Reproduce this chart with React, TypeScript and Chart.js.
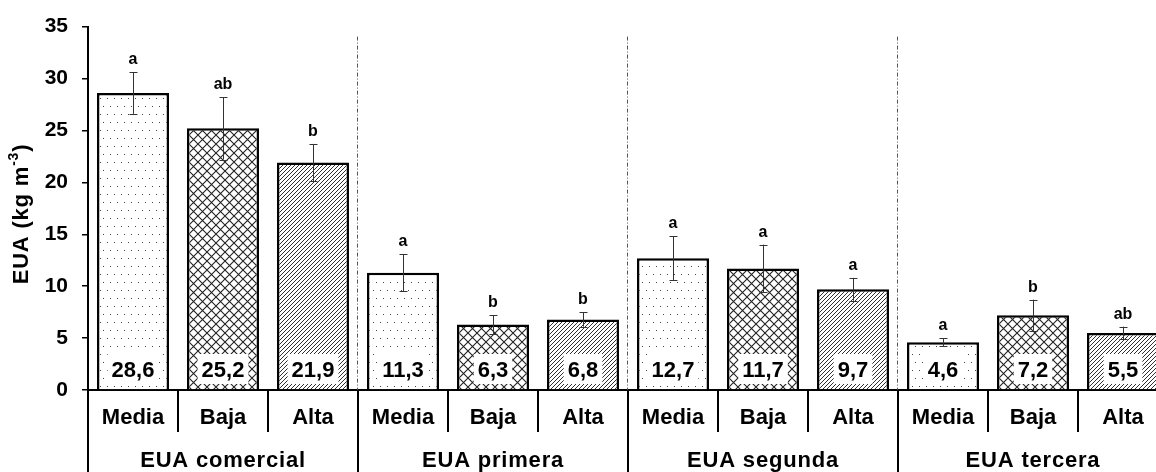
import React, { useEffect, useRef } from "react";
import { Chart, registerables } from "chart.js";

Chart.register(...registerables);

const groups = ["EUA comercial", "EUA primera", "EUA segunda", "EUA tercera"];
const treatments = ["Media", "Baja", "Alta"];
const values = [28.6, 25.2, 21.9, 11.3, 6.3, 6.8, 12.7, 11.7, 9.7, 4.6, 7.2, 5.5];
const errors = [2.0, 3.0, 1.8, 1.8, 0.9, 0.7, 2.1, 2.3, 1.1, 0.4, 1.5, 0.6];
const letters = ["a", "ab", "b", "a", "b", "b", "a", "a", "a", "a", "b", "ab"];
const yMin = 0;
const yMax = 35;
const yStep = 5;

const labels = groups.flatMap(() => treatments);
const FONT = '"Liberation Sans", Arial, Helvetica, sans-serif';

function makePattern(kind: string): CanvasPattern | string {
  const c = document.createElement("canvas");
  const ctx = c.getContext("2d");
  if (!ctx) return "#fff";
  if (kind === "dots") {
    c.width = 14;
    c.height = 16;
    ctx.fillStyle = "#fff";
    ctx.fillRect(0, 0, 14, 16);
    ctx.fillStyle = "#444";
    ctx.fillRect(2, 2, 1, 1);
    ctx.fillRect(9, 2, 1, 1);
    ctx.fillRect(5, 10, 1, 1);
    ctx.fillRect(12, 10, 1, 1);
  } else if (kind === "cross") {
    c.width = 9;
    c.height = 9;
    ctx.fillStyle = "#fff";
    ctx.fillRect(0, 0, 9, 9);
    ctx.strokeStyle = "#222";
    ctx.lineWidth = 1.1;
    ctx.beginPath();
    ctx.moveTo(0, 0);
    ctx.lineTo(9, 9);
    ctx.moveTo(9, 0);
    ctx.lineTo(0, 9);
    ctx.stroke();
  } else {
    c.width = 4;
    c.height = 4;
    ctx.fillStyle = "#fff";
    ctx.fillRect(0, 0, 4, 4);
    ctx.strokeStyle = "#333";
    ctx.lineWidth = 1;
    ctx.beginPath();
    ctx.moveTo(0, 4);
    ctx.lineTo(4, 0);
    ctx.moveTo(-1, 1);
    ctx.lineTo(1, -1);
    ctx.moveTo(3, 5);
    ctx.lineTo(5, 3);
    ctx.stroke();
  }
  return ctx.createPattern(c, "repeat") || "#fff";
}

const overlayPlugin = {
  id: "overlay",
  afterDatasetsDraw(chart: any) {
    const ctx = chart.ctx;
    const meta = chart.getDatasetMeta(0);
    const ys = chart.scales.y;
    const zero = ys.getPixelForValue(0);
    ctx.save();
    meta.data.forEach((bar: any, i: number) => {
      const x = Math.round(bar.x) + 0.5;
      const yt = ys.getPixelForValue(values[i] + errors[i]);
      const yb = ys.getPixelForValue(values[i] - errors[i]);
      ctx.strokeStyle = "#333";
      ctx.lineWidth = 1;
      ctx.setLineDash([]);
      ctx.beginPath();
      ctx.moveTo(x, yt);
      ctx.lineTo(x, yb);
      ctx.moveTo(x - 4, Math.round(yt) + 0.5);
      ctx.lineTo(x + 4, Math.round(yt) + 0.5);
      ctx.moveTo(x - 4, Math.round(yb) + 0.5);
      ctx.lineTo(x + 4, Math.round(yb) + 0.5);
      ctx.stroke();

      ctx.fillStyle = "#000";
      ctx.font = `bold 16px ${FONT}`;
      ctx.textAlign = "center";
      ctx.textBaseline = "alphabetic";
      ctx.fillText(letters[i], bar.x, yt - 8);

      const txt = values[i].toFixed(1).replace(".", ",");
      ctx.font = `bold 22px ${FONT}`;
      const w = ctx.measureText(txt).width + 8;
      ctx.fillStyle = "#fff";
      ctx.fillRect(bar.x - w / 2, zero - 36, w, 30);
      ctx.fillStyle = "#000";
      ctx.fillText(txt, bar.x, zero - 13.5);
    });
    ctx.restore();
  },
  afterDraw(chart: any) {
    const ctx = chart.ctx;
    const ca = chart.chartArea;
    const xs = chart.scales.x;
    const n = labels.length;
    const step = xs.getPixelForValue(1) - xs.getPixelForValue(0);
    const boundary = (i: number) => xs.getPixelForValue(0) - step / 2 + i * step;
    ctx.save();
    ctx.strokeStyle = "#000";
    ctx.lineWidth = 2;
    for (let i = 0; i <= n; i++) {
      const px = Math.round(boundary(i));
      const isGroup = i % 3 === 0;
      ctx.beginPath();
      ctx.moveTo(px, ca.bottom);
      ctx.lineTo(px, isGroup ? chart.height : ca.bottom + 42);
      ctx.stroke();
    }
    ctx.lineWidth = 1;
    ctx.strokeStyle = "#555";
    ctx.setLineDash([4, 2, 1, 2]);
    for (let g = 1; g < groups.length; g++) {
      const px = Math.round(boundary(g * 3)) - 0.5;
      ctx.beginPath();
      ctx.moveTo(px, ca.top + 10);
      ctx.lineTo(px, ca.bottom);
      ctx.stroke();
    }
    ctx.setLineDash([]);

    ctx.fillStyle = "#000";
    ctx.font = `bold 22px ${FONT}`;
    ctx.textAlign = "center";
    ctx.textBaseline = "alphabetic";
    (ctx as any).letterSpacing = "0.8px";
    groups.forEach((g, gi) => {
      const cx = (xs.getPixelForValue(gi * 3) + xs.getPixelForValue(gi * 3 + 2)) / 2;
      ctx.fillText(g, cx, 467);
    });

    // y-axis title with superscript
    ctx.translate(22, 214);
    ctx.rotate(-Math.PI / 2);
    const main = "EUA (kg m";
    const sup = "-3";
    const close = ")";
    ctx.font = `bold 22px ${FONT}`;
    const w1 = ctx.measureText(main).width;
    const w3 = ctx.measureText(close).width;
    ctx.font = `bold 14px ${FONT}`;
    const w2 = ctx.measureText(sup).width;
    let sx = -(w1 + w2 + w3) / 2;
    ctx.textAlign = "left";
    ctx.textBaseline = "middle";
    ctx.font = `bold 22px ${FONT}`;
    ctx.fillText(main, sx, 0);
    sx += w1;
    ctx.font = `bold 14px ${FONT}`;
    ctx.fillText(sup, sx, -8);
    sx += w2;
    ctx.font = `bold 22px ${FONT}`;
    ctx.fillText(close, sx, 0);
    ctx.restore();
  },
};

export default function App() {
  const ref = useRef<HTMLCanvasElement | null>(null);
  useEffect(() => {
    if (!ref.current) return;
    const pats = [makePattern("dots"), makePattern("cross"), makePattern("hatch")];
    const chart = new Chart(ref.current, {
      type: "bar",
      data: {
        labels,
        datasets: [
          {
            data: values,
            backgroundColor: labels.map((_, i) => pats[i % 3]) as any,
            borderColor: "#000",
            borderWidth: 2.5,
            barPercentage: 0.8,
            categoryPercentage: 1,
          },
        ],
      },
      options: {
        responsive: false,
        animation: false,
        devicePixelRatio: 1,
        layout: { padding: { top: 25, right: 0, bottom: 0, left: 0 } },
        plugins: { legend: { display: false }, tooltip: { enabled: false } },
        scales: {
          x: {
            grid: { display: false, drawTicks: false },
            border: { display: true, color: "#000", width: 2 },
            ticks: {
              color: "#000",
              font: { family: FONT, size: 22, weight: "bold" },
              padding: 15,
              maxRotation: 0,
              autoSkip: false,
            },
            afterFit: (s: any) => {
              s.height = 82;
            },
          },
          y: {
            min: yMin,
            max: yMax,
            ticks: {
              stepSize: yStep,
              color: "#000",
              font: { family: FONT, size: 21, weight: "bold" },
              padding: 14,
            },
            grid: {
              display: true,
              drawOnChartArea: false,
              drawTicks: true,
              tickLength: 6,
              color: "#000",
              lineWidth: 1.5,
            },
            border: { display: true, color: "#000", width: 2 },
            afterFit: (s: any) => {
              s.width = 88;
            },
          },
        },
      } as any,
      plugins: [overlayPlugin as any],
    });
    return () => chart.destroy();
  }, []);
  return (
    <div
      style={{
        position: "fixed",
        left: 0,
        top: 0,
        width: 1156,
        height: 472,
        overflow: "hidden",
        background: "#fff",
      }}
    >
      <canvas ref={ref} width={1168} height={472} style={{ display: "block" }} />
    </div>
  );
}
